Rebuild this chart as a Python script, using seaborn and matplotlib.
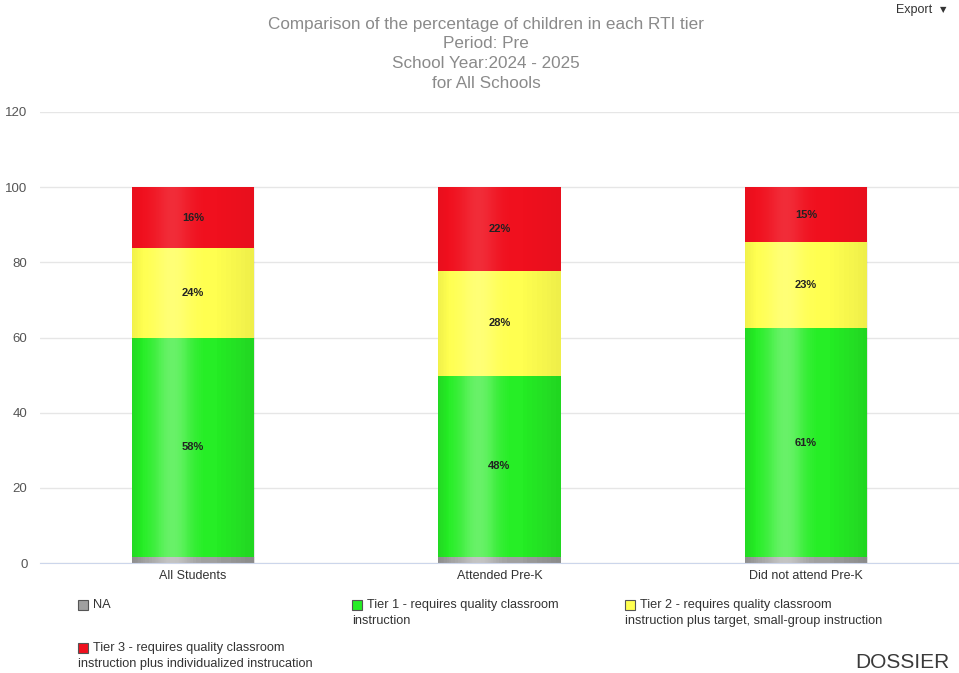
import numpy as np
import pandas as pd
import matplotlib
matplotlib.use("Agg")
import matplotlib.pyplot as plt
from matplotlib.patches import Rectangle
import seaborn as sns

# ---- data ----
categories = ["All Students", "Attended Pre-K", "Did not attend Pre-K"]
na_vals = [1.6, 1.6, 1.5]
tier1_vals = [58.4, 48.2, 61.0]
tier2_vals = [23.8, 27.9, 22.8]
tier3_vals = [16.2, 22.3, 14.7]
series_names = [["NA"],
                ["Tier 1 - requires quality classroom", "instruction"],
                ["Tier 2 - requires quality classroom", "instruction plus target, small-group instruction"],
                ["Tier 3 - requires quality classroom", "instruction plus individualized instrucation"]]
y_ticks = [0, 20, 40, 60, 80, 100, 120]
title_lines = ["Comparison of the percentage of children in each RTI tier",
               "Period: Pre", "School Year:2024 - 2025", "for All Schools"]

colors = ["#a0a0a0", "#26ee26", "#ffff50", "#f0101e"]

sns.set_style("white")
plt.rcParams["font.family"] = ["Liberation Sans", "DejaVu Sans"]

W, H = 959, 673
fig = plt.figure(figsize=(W / 100, H / 100), dpi=100)
ax = fig.add_axes([40 / W, (H - 563) / H, (959 - 40) / W, (563 - 112) / H])

layers = [na_vals, tier1_vals, tier2_vals, tier3_vals]
cums = np.cumsum(np.array(layers), axis=0)
df = pd.DataFrame({"cat": categories})
for i in range(4):
    df[f"c{i}"] = cums[i]

# draw from top of stack to bottom so lower layers overlay
for i in range(3, -1, -1):
    sns.barplot(data=df, x="cat", y=f"c{i}", color=colors[i], saturation=1,
                width=0.4, errorbar=None, ax=ax, zorder=2, linewidth=0)

# subtle cylinder-like shading overlay
t = np.linspace(0, 1, 200)
alpha = 0.12 * np.exp(-((t - 0.33) / 0.15) ** 2)
dark = 0.035 * np.clip((t - 0.65) / 0.35, 0, 1) + 0.03 * np.clip((0.1 - t) / 0.1, 0, 1)
img = np.zeros((1, 200, 4))
img[..., :3] = 1.0
img[0, :, 3] = alpha
img2 = np.zeros((1, 200, 4))
img2[0, :, 3] = dark
for p in list(ax.patches):
    x0, y0 = p.get_x(), p.get_y()
    w, h = p.get_width(), p.get_height()
    for im_data in (img, img2):
        im = ax.imshow(im_data, extent=[x0, x0 + w, y0, y0 + h], aspect="auto",
                       zorder=2.5, interpolation="bilinear")
        im.set_clip_path(p)

ax.set_xlim(-0.5, 2.5)
ax.set_ylim(0, 120)
ax.set_yticks(y_ticks)
ax.set_yticklabels([str(v) for v in y_ticks], color="#555555", fontsize=9.5)
ax.tick_params(axis="y", length=0, pad=9)
ax.tick_params(axis="x", length=0, pad=5, labelsize=9, labelcolor="#333333")
ax.set_xlabel("")
ax.set_ylabel("")
ax.grid(axis="y", color="#e6e6e6", linewidth=1, zorder=0)
ax.set_axisbelow(True)
for s in ["top", "right", "left"]:
    ax.spines[s].set_visible(False)
ax.spines["bottom"].set_color("#ccd6eb")
ax.spines["bottom"].set_zorder(3)

# segment labels
for j in range(len(categories)):
    bottom = na_vals[j]
    for vals in layers[1:]:
        v = vals[j]
        ax.text(j, bottom + v / 2, f"{v:.0f}%", ha="center", va="center",
                fontsize=8, fontweight="bold", color="#222222", zorder=4)
        bottom += v

# title
title_y = [24, 44, 64, 83]
for line, yy in zip(title_lines, title_y):
    fig.text(486 / W, 1 - yy / H, line, ha="center", va="center",
             fontsize=12.3, color="#8a8a8a")

# export
fig.text(932 / W, 1 - 10 / H, "Export", ha="right", va="center", fontsize=9, color="#333333")
fig.text(943 / W, 1 - 10 / H, "\u25bc", ha="center", va="center", fontsize=6, color="#333333",
         family="DejaVu Sans")

# legend (manual)
leg_pos = [(78, 605), (352, 605), (625, 605), (78, 648)]
leg_font = ["Liberation Sans Narrow", "Liberation Sans"]
for (lx, ly), lines, c in zip(leg_pos, series_names, colors):
    fig.patches.append(Rectangle((lx / W, 1 - (ly + 5) / H), 10 / W, 10 / H,
                                 transform=fig.transFigure, facecolor=c,
                                 edgecolor="#555555", linewidth=0.8))
    fig.text((lx + 15) / W, 1 - ly / H, lines[0], ha="left", va="center",
             fontsize=9.2, color="#333333", family=leg_font)
    if len(lines) > 1:
        fig.text(lx / W, 1 - (ly + 16) / H, lines[1], ha="left", va="center",
                 fontsize=9.2, color="#333333", family=leg_font)

# logo
fig.text(902 / W, 1 - 662 / H, "DOSSIER", ha="center", va="center",
         fontsize=15, color="#3a3a3a", family="Liberation Sans")

fig.savefig("out.png", dpi=100)
